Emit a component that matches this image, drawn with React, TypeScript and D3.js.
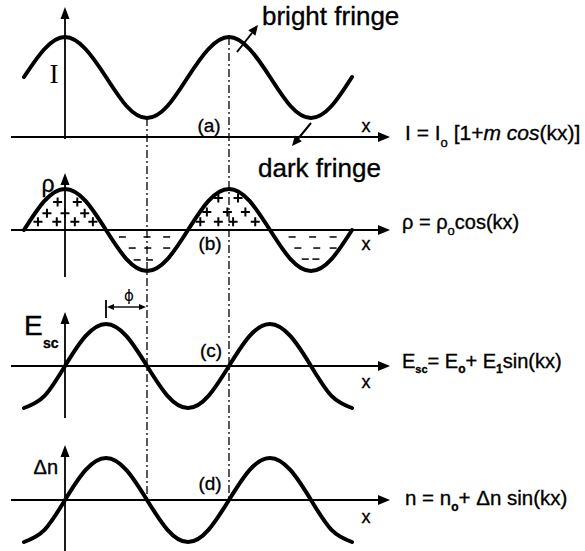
import * as d3 from 'd3';

// Phase in units of pi (kx / pi), sampled every eighth of a period
const U = [-0.5, -0.25, 0, 0.25, 0.5, 0.75, 1, 1.25, 1.5, 1.75, 2, 2.25, 2.5, 2.75, 3, 3.25, 3.5];
// (a) intensity, (b) charge density, (c) space-charge field, (d) index change
const I_VALUES = [0.6, 0.88, 1.0, 0.88, 0.6, 0.31, 0.19, 0.31, 0.6, 0.88, 1.0, 0.88, 0.6, 0.31, 0.19, 0.31, 0.6];
const RHO_VALUES = [0, 0.71, 1, 0.71, 0, -0.71, -1, -0.71, 0, 0.71, 1, 0.71, 0, -0.71, -1, -0.71, 0];
const E_VALUES = [-1, -0.71, 0, 0.71, 1, 0.71, 0, -0.71, -1, -0.71, 0, 0.71, 1, 0.71, 0, -0.71, -1];
const DN_VALUES = [-1, -0.71, 0, 0.71, 1, 0.71, 0, -0.71, -1, -0.71, 0, 0.71, 1, 0.71, 0, -0.71, -1];

// charge marks inside the rho lobes: [phase, rho]
const PLUS_MARKS = [
  [-0.09, 0.68], [0.15, 0.68], [-0.22, 0.41], [0.0, 0.41], [0.24, 0.41],
  [-0.33, 0.2], [-0.1, 0.2], [0.12, 0.2], [0.34, 0.2],
  [1.87, 0.78], [2.11, 0.78], [1.73, 0.44], [1.98, 0.44], [2.2, 0.44],
  [1.65, 0.2], [1.87, 0.2], [2.05, 0.2], [2.32, 0.2],
];
const MINUS_MARKS = [
  [0.7, -0.17], [1.0, -0.17], [1.24, -0.17], [0.82, -0.44], [1.01, -0.44], [1.24, -0.44],
  [0.88, -0.73], [1.03, -0.73],
  [2.77, -0.17], [3.02, -0.17], [3.27, -0.17], [2.84, -0.44], [3.07, -0.44], [3.27, -0.44],
  [2.93, -0.71], [3.06, -0.71],
];
// fringe guide lines (phase) : dark fringe, bright fringe
const GUIDES = [1, 2];
const PHI_PEAK = 0.5;

const W = 585, H = 551;
const X_LEFT = 11, X_RIGHT = 390;
const SANS = 'Arial, "Liberation Sans", Helvetica, sans-serif';
const SERIF = '"Times New Roman", "Liberation Serif", serif';

const x = d3.scaleLinear().domain([0, 2]).range([65, 229]);
const yI = d3.scaleLinear().domain([0, 1]).range([137, 37]);
const yRho = d3.scaleLinear().domain([-1, 1]).range([271, 189]);
const yE = d3.scaleLinear().domain([-1, 1]).range([408, 324]);
const yDn = d3.scaleLinear().domain([-1, 1]).range([542, 458]);

function curvePath(values: number[], y: d3.ScaleLinear<number, number>) {
  return d3.line<number>()
    .x((_, i) => x(U[i]))
    .y(d => y(d))
    .curve(d3.curveNatural)(values) ?? '';
}

function head(tx: number, ty: number, fx: number, fy: number, len = 11, hw = 4.5) {
  const a = Math.atan2(ty - fy, tx - fx);
  const bx = tx - len * Math.cos(a), by = ty - len * Math.sin(a);
  const px = -Math.sin(a) * hw, py = Math.cos(a) * hw;
  return `M${tx},${ty}L${bx + px},${by + py}L${bx - px},${by - py}Z`;
}

export default function App() {
  const x0 = x(0);
  const panels = [
    { values: I_VALUES, y: yI, axisY: yI(0), top: 7, bottom: 139 },
    { values: RHO_VALUES, y: yRho, axisY: yRho(0), top: 173, bottom: 277 },
    { values: E_VALUES, y: yE, axisY: yE(0), top: 312, bottom: 418 },
    { values: DN_VALUES, y: yDn, axisY: yDn(0), top: 445, bottom: 551 },
  ];
  const phiY = 307;

  return (
    <div style={{ position: 'fixed', left: 0, top: 0, background: '#fff' }}>
      <svg width={W} height={H} style={{ display: 'block' }} fontFamily={SANS}>
        <rect width={W} height={H} fill="#fff" />

        {/* guide lines through dark and bright fringes */}
        {GUIDES.map(g => (
          <line key={g} x1={x(g)} x2={x(g)} y1={yI(I_VALUES[U.indexOf(g)])} y2={yDn(0)}
            stroke="#000" strokeWidth={1.3} strokeDasharray="8,3,2,3" />
        ))}

        {panels.map((p, i) => (
          <g key={i}>
            <line x1={X_LEFT} x2={X_RIGHT - 10} y1={p.axisY} y2={p.axisY} stroke="#000" strokeWidth={1.8} />
            <path d={head(X_RIGHT, p.axisY, X_LEFT, p.axisY, 12, 5)} fill="#000" />
            <line x1={x0} x2={x0} y1={p.bottom} y2={p.top + 10} stroke="#000" strokeWidth={1.8} />
            <path d={head(x0, p.top, x0, p.bottom, 12, 4.5)} fill="#000" />
            <path d={curvePath(p.values, p.y)} fill="none" stroke="#000" strokeWidth={4} strokeLinecap="round" />
          </g>
        ))}

        {/* charges */}
        {PLUS_MARKS.map(([u, v], i) => (
          <path key={'p' + i}
            d={`M${x(u) - 4.5},${yRho(v)}h9M${x(u)},${yRho(v) - 4.5}v9`}
            stroke="#000" strokeWidth={2} />
        ))}
        {MINUS_MARKS.map(([u, v], i) => (
          <line key={'m' + i} x1={x(u) - 3.5} x2={x(u) + 3.5} y1={yRho(v)} y2={yRho(v)}
            stroke="#000" strokeWidth={1.5} />
        ))}

        {/* phase shift phi */}
        <line x1={x(PHI_PEAK)} x2={x(PHI_PEAK)} y1={300} y2={318} stroke="#000" strokeWidth={1.8} />
        <line x1={x(PHI_PEAK) + 6} x2={x(1) - 6} y1={phiY} y2={phiY} stroke="#000" strokeWidth={1.4} />
        <path d={head(x(PHI_PEAK) + 1, phiY, x(1), phiY, 7, 3)} fill="#000" />
        <path d={head(x(1) - 1, phiY, x(PHI_PEAK), phiY, 7, 3)} fill="#000" />
        <text x={129} y={301} fontSize={15} textAnchor="middle" fontFamily='"DejaVu Sans", sans-serif'>ϕ</text>

        <g stroke="#000" strokeWidth={0.35}>
          {/* fringe annotations */}
          <text x={262} y={25} fontSize={26}>bright fringe</text>
          <text x={258} y={177} fontSize={26}>dark fringe</text>

          {/* axis labels */}
          <text x={48} y={192} fontSize={23} textAnchor="middle">ρ</text>
          <text x={24} y={335} fontSize={28}>E</text>
          <text x={43} y={348} fontSize={14} fontWeight="bold">sc</text>
          <text x={58} y={474} fontSize={20} textAnchor="end">Δn</text>

          {/* panel tags */}
          <text x={209} y={132} fontSize={19} textAnchor="middle">(a)</text>
          <text x={210} y={250} fontSize={19} textAnchor="middle">(b)</text>
          <text x={211} y={357} fontSize={19} textAnchor="middle">(c)</text>
          <text x={210} y={490} fontSize={19} textAnchor="middle">(d)</text>

          {/* x labels */}
          <text x={366} y={132} fontSize={18} textAnchor="middle">x</text>
          <text x={366} y={250} fontSize={18} textAnchor="middle">x</text>
          <text x={366} y={388} fontSize={18} textAnchor="middle">x</text>
          <text x={366} y={523} fontSize={18} textAnchor="middle">x</text>

          {/* equations */}
          <text x={405} y={140} fontSize={21}>
            I = I<tspan fontSize={13} dy={7}>o</tspan><tspan dy={-7}> [1+</tspan>
            <tspan fontStyle="italic">m cos</tspan>(kx)]
          </text>
          <text x={402} y={229} fontSize={20}>
            ρ = ρ<tspan fontSize={13} dy={6}>o</tspan><tspan dy={-6}>cos(kx)</tspan>
          </text>
          <text x={402} y={368} fontSize={20}>
            E<tspan fontSize={11} fontWeight="bold" dy={5}>sc</tspan><tspan dy={-5}>= E</tspan>
            <tspan fontSize={12} fontWeight="bold" dy={5}>o</tspan><tspan dy={-5}>+ E</tspan>
            <tspan fontSize={12} fontWeight="bold" dy={5}>1</tspan><tspan dy={-5}>sin(kx)</tspan>
          </text>
          <text x={405} y={505} fontSize={20.5}>
            n = n<tspan fontSize={12} fontWeight="bold" dy={6}>o</tspan><tspan dy={-6}>+ Δn sin(kx)</tspan>
          </text>
        </g>
        <text x={54} y={83} fontSize={27} textAnchor="middle" fontFamily={SERIF}>I</text>

        {/* fringe arrows */}
        <line x1={237} y1={52} x2={252} y2={33} stroke="#000" strokeWidth={2} />
        <path d={head(258, 25, 237, 52, 10, 4.5)} fill="#000" />
        <line x1={311} y1={123} x2={297} y2={140} stroke="#000" strokeWidth={2} />
        <path d={head(292, 146, 311, 123, 10, 4.5)} fill="#000" />
      </svg>
    </div>
  );
}
